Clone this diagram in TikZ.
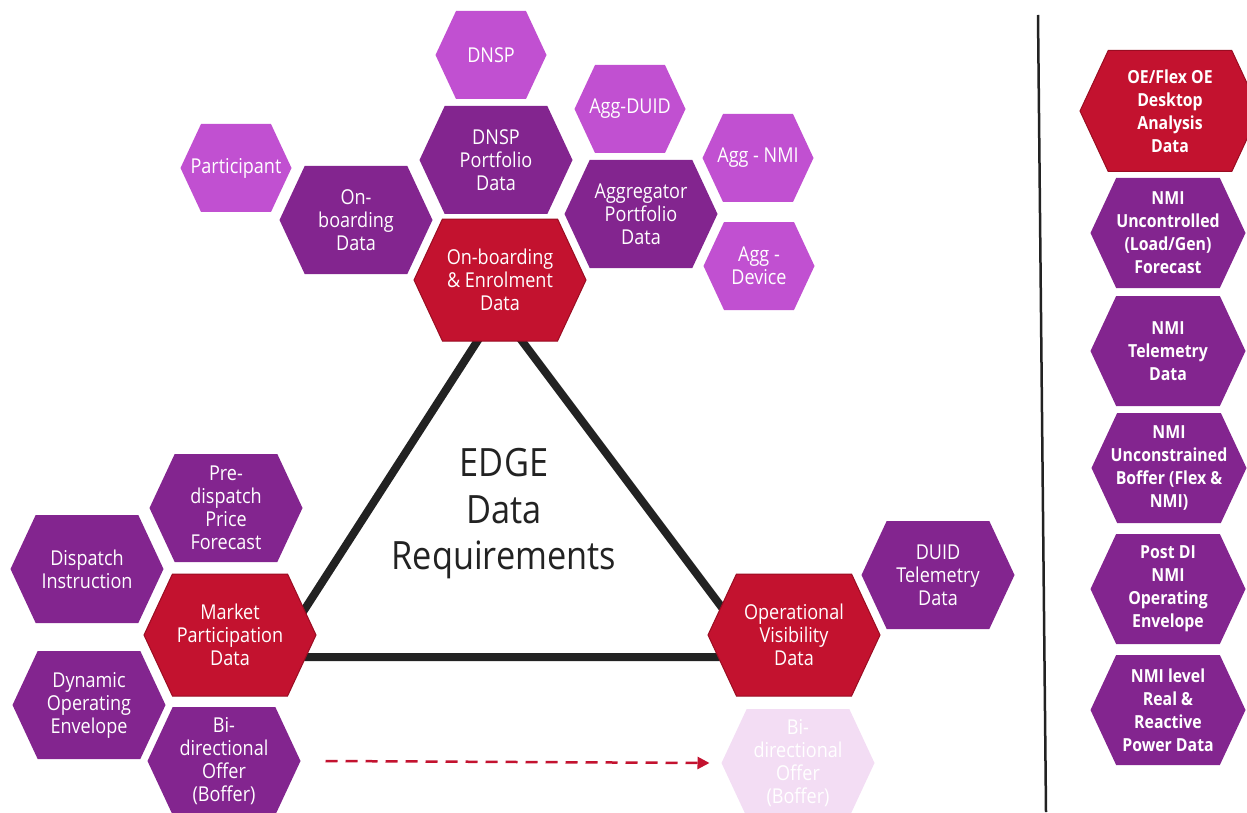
\documentclass[tikz,border=0pt]{standalone}
\usepackage{fontspec}
\setmainfont{Open Sans}[FakeStretch=0.88]
\usepackage{xcolor}
\usepackage{tikz}
\usetikzlibrary{shapes.symbols}
\usetikzlibrary{arrows.meta}

\definecolor{edgered}{HTML}{C3122F}
\definecolor{edgeborder}{HTML}{9A0C22}
\definecolor{edgepurple}{HTML}{83258F}
\definecolor{edgelilac}{HTML}{C150D1}
\definecolor{edgefade}{HTML}{F3DDF4}
\definecolor{edgeink}{HTML}{222222}

\begin{document}
\begin{tikzpicture}[x=1pt, y=-1pt,
		hex/.style={signal, signal to=east and west, signal pointer angle=130,
			inner xsep=-30pt, inner ysep=0pt, outer sep=0pt, text=white, align=center,
			font=\fontsize{20.5}{23}\selectfont},
		hexsmall/.style={hex, fill=edgelilac, minimum width=111pt, minimum height=88pt},
		hexmid/.style={hex, fill=edgepurple, minimum width=153pt, minimum height=108pt},
		hexbig/.style={hex, fill=edgered, draw=edgeborder, line width=1pt,
			minimum width=172pt, minimum height=122pt},
		hexlist/.style={font=\bfseries\fontsize{18}{23}\selectfont},
		dasharrow/.style={draw=edgered, line width=2.5pt, dash pattern=on 12pt off 8pt,
			-{Triangle[length=12pt, width=12pt]}}]
			\useasboundingbox (0,0) rectangle (1247,813);

			% Triangle behind the hexagons
			\coordinate (apex) at (498,309);
			\coordinate (lefttip) at (274,657);
			\coordinate (righttip) at (759,657);
			\draw[line width=8pt, edgeink] (apex) -- (lefttip) -- (righttip) -- cycle;
			\node[text=edgeink, align=center, font=\fontsize{39}{46.5}\selectfont] (title) at (504,514) {EDGE\\Data\\Requirements};

			% On-boarding cluster
			\node[hexsmall] (dnsp) at (491,55) {DNSP};
			\node[hexsmall] (aggduid) at (630,109) {Agg-DUID};
			\node[hexsmall] (participant) at (236,168) {Participant};
			\node[hexsmall] (aggnmi) at (758,158) {Agg - NMI};
			\node[hexsmall] (aggdevice) at (759,266) {Agg -\\Device};
			\node[hexmid] (dnspport) at (496,160) {DNSP\\Portfolio\\Data};
			\node[hexmid] (onboard) at (356,220) {On-\\boarding\\Data};
			\node[hexmid] (aggport) at (641,214) {Aggregator\\Portfolio\\Data};
			\node[hexbig] (enrol) at (500,280) {On-boarding\\\& Enrolment\\Data};

			% Market participation cluster
			\node[hexmid] (predispatch) at (226,508) {Pre-\\dispatch\\Price\\Forecast};
			\node[hexmid] (dispatch) at (87,569) {Dispatch\\Instruction};
			\node[hexbig] (market) at (230,635) {Market\\Participation\\Data};
			\node[hexmid] (doe) at (89,705) {Dynamic\\Operating\\Envelope};
			\node[hexmid] (boffer) at (224,761) {Bi-\\directional\\Offer\\(Boffer)};

			% Operational visibility cluster
			\node[hexmid] (duid) at (938,575) {DUID\\Telemetry\\Data};
			\node[hexbig] (opvis) at (794,635) {Operational\\Visibility\\Data};
			\node[hexmid, fill=edgefade] (fadedboffer) at (798,763) {Bi-\\directional\\Offer\\(Boffer)};
			\draw[dasharrow] ([xshift=25pt]boffer.east) -- ([xshift=-12pt]fadedboffer.west);

			% Right hand column
			\coordinate (septop) at (1038,15);
			\coordinate (sepbot) at (1046,812);
			\draw[line width=2.5pt, edgeink] (septop) -- (sepbot);
			\node[hexbig, hexlist, minimum width=180pt, minimum height=121pt] (oeflex) at (1170,111) {OE/Flex OE\\Desktop\\Analysis\\Data};
			\node[hexmid, hexlist, minimum width=155pt, minimum height=110pt] (uncontrolled) at (1168,233) {NMI\\Uncontrolled\\(Load/Gen)\\Forecast};
			\node[hexmid, hexlist, minimum width=155pt, minimum height=110pt] (telemetry) at (1168,351) {NMI\\Telemetry\\Data};
			\node[hexmid, hexlist, minimum width=155pt, minimum height=110pt] (unconstrained) at (1169,468) {NMI\\Unconstrained\\Boffer (Flex \&\\NMI)};
			\node[hexmid, hexlist, minimum width=155pt, minimum height=110pt] (postdi) at (1168,589) {Post DI\\NMI\\Operating\\Envelope};
			\node[hexmid, hexlist, minimum width=155pt, minimum height=110pt] (nmilevel) at (1168,710) {NMI level\\Real \&\\Reactive\\Power Data};
		\end{tikzpicture}
\end{document}
